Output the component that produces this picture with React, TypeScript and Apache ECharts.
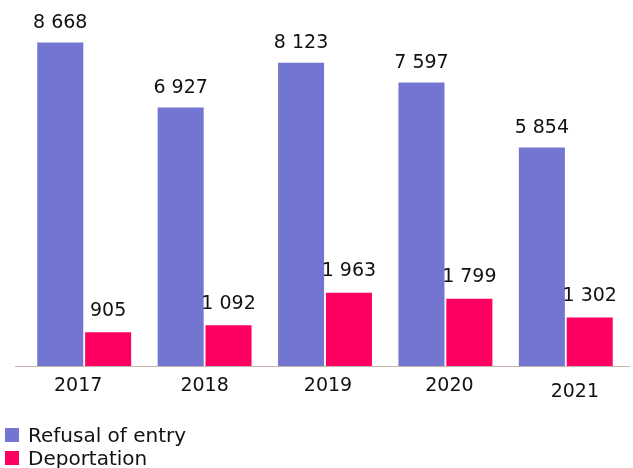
import React, { useEffect, useRef } from "react";
import * as echarts from "echarts";

const years = ["2017", "2018", "2019", "2020", "2021"];
const refusalOfEntry = [8668, 6927, 8123, 7597, 5854];
const deportation = [905, 1092, 1963, 1799, 1302];

// small horizontal / vertical nudges of the year labels, in px
const yearLabelShiftX = [-6, 0, 3, 4, 9];
const yearLabelShiftY = [0, 0, 0, 0, 3];

const FONT = "'DejaVu Sans', Verdana, sans-serif";

const fmt = (v: number) => String(v).replace(/\B(?=(\d{3})+(?!\d))/g, " ");

const makeLabel = (distance: number) => ({
  show: true,
  position: "top" as const,
  distance,
  color: "#111",
  fontFamily: FONT,
  fontSize: 19,
  formatter: (p: any) => fmt(p.value),
});

export default function App() {
  const ref = useRef<HTMLDivElement>(null);

  useEffect(() => {
    if (!ref.current) return;
    const chart = echarts.init(ref.current, undefined, { renderer: "svg" });
    const gridBottom = 102;
    const axisY = 468 - gridBottom + 0.5;
    chart.setOption({
      animation: false,
      textStyle: { fontFamily: FONT },
      grid: { left: 24, right: 7, top: 30, bottom: gridBottom },
      legend: {
        orient: "vertical",
        left: 5,
        top: 425,
        padding: 0,
        icon: "rect",
        itemWidth: 14,
        itemHeight: 14,
        itemGap: 3,
        textStyle: {
          fontFamily: FONT,
          fontSize: 20,
          lineHeight: 20,
          color: "#111",
          padding: [0, 0, 0, 4],
        },
        data: ["Refusal of entry", "Deportation"],
      },
      graphic: [
        {
          type: "line",
          shape: { x1: 15, y1: axisY, x2: 630, y2: axisY },
          style: { stroke: "#c4b4ac", lineWidth: 1 },
          z: 10,
        },
      ],
      xAxis: {
        type: "category",
        data: years.map((y, i) => {
          const dx = yearLabelShiftX[i];
          const dy = yearLabelShiftY[i];
          return {
            value: y,
            textStyle: {
              padding: [dy * 2, dx < 0 ? -dx * 2 : 0, 0, dx > 0 ? dx * 2 : 0],
            },
          };
        }),
        axisLine: { show: false },
        axisTick: { show: false },
        axisLabel: { color: "#111", fontFamily: FONT, fontSize: 19, margin: 8 },
      },
      yAxis: {
        type: "value",
        min: 0,
        max: 9000,
        show: false,
        splitLine: { show: false },
      },
      series: [
        {
          name: "Refusal of entry",
          type: "bar",
          data: refusalOfEntry,
          itemStyle: { color: "#7276d0" },
          barGap: "4%",
          barCategoryGap: "22%",
          label: makeLabel(12),
        },
        {
          name: "Deportation",
          type: "bar",
          data: deportation,
          itemStyle: { color: "#ff0062" },
          label: makeLabel(14),
        },
      ],
    });
    return () => chart.dispose();
  }, []);

  return (
    <div
      ref={ref}
      style={{ position: "fixed", top: 0, left: 0, width: 633, height: 468 }}
    />
  );
}
